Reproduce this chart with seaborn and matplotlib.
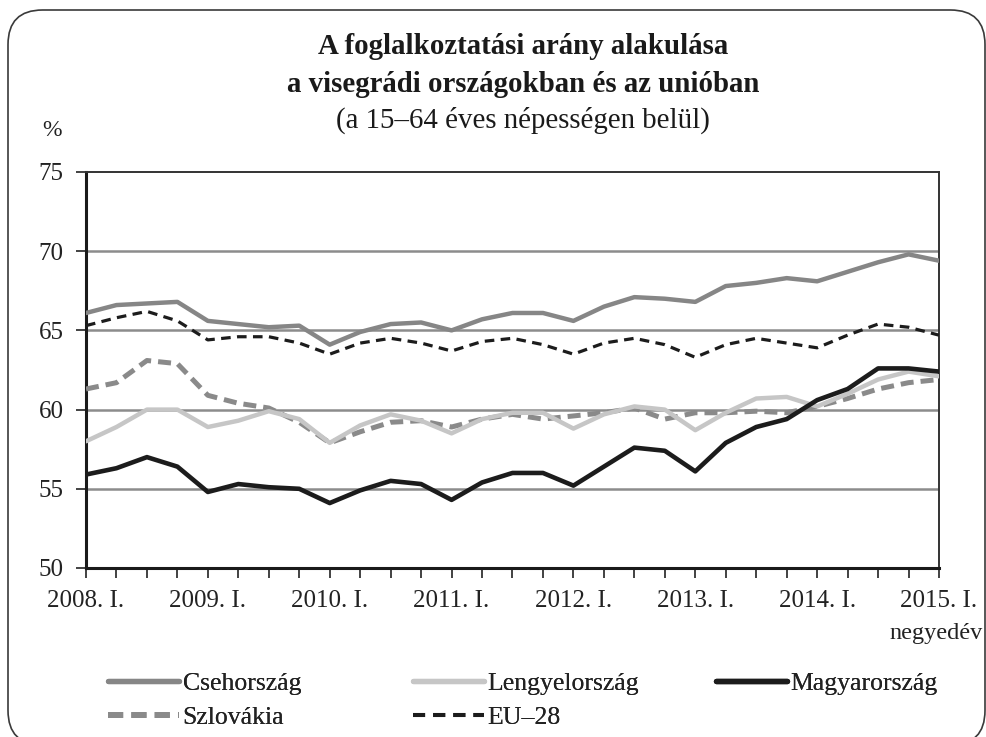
import matplotlib
matplotlib.use("Agg")
import matplotlib.pyplot as plt
from matplotlib.patches import FancyBboxPatch
from matplotlib.lines import Line2D
import seaborn as sns
import pandas as pd
import numpy as np

# ---- data (quarterly, 2008 Q1 - 2015 Q1) ----
quarters = list(range(29))
tick_labels = ["2008. I.", "2009. I.", "2010. I.", "2011. I.", "2012. I.",
               "2013. I.", "2014. I.", "2015. I."]
cseh = [66.1, 66.6, 66.7, 66.8, 65.6, 65.4, 65.2, 65.3, 64.1, 64.9, 65.4, 65.5,
        65.0, 65.7, 66.1, 66.1, 65.6, 66.5, 67.1, 67.0, 66.8, 67.8, 68.0, 68.3,
        68.1, 68.7, 69.3, 69.8, 69.4]
lengyel = [58.0, 58.9, 60.0, 60.0, 58.9, 59.3, 59.9, 59.4, 57.9, 59.0, 59.7, 59.3,
           58.5, 59.4, 59.8, 59.8, 58.8, 59.7, 60.2, 60.0, 58.7, 59.8, 60.7, 60.8,
           60.2, 61.0, 61.9, 62.4, 62.1]
magyar = [55.9, 56.3, 57.0, 56.4, 54.8, 55.3, 55.1, 55.0, 54.1, 54.9, 55.5, 55.3,
          54.3, 55.4, 56.0, 56.0, 55.2, 56.4, 57.6, 57.4, 56.1, 57.9, 58.9, 59.4,
          60.6, 61.3, 62.6, 62.6, 62.4]
szlovak = [61.3, 61.7, 63.1, 62.9, 60.9, 60.4, 60.1, 59.2, 57.9, 58.6, 59.2, 59.3,
           58.9, 59.4, 59.7, 59.4, 59.6, 59.8, 60.1, 59.4, 59.8, 59.8, 59.9, 59.8,
           60.2, 60.7, 61.3, 61.7, 61.9]
eu28 = [65.3, 65.8, 66.2, 65.6, 64.4, 64.6, 64.6, 64.2, 63.5, 64.2, 64.5, 64.2,
        63.7, 64.3, 64.5, 64.1, 63.5, 64.2, 64.5, 64.1, 63.3, 64.1, 64.5, 64.2,
        63.9, 64.7, 65.4, 65.2, 64.7]
series_names = ["Csehország", "Lengyelország", "Magyarország", "Szlovákia", "EU–28"]
series_values = [cseh, lengyel, magyar, szlovak, eu28]

# ---- styles ----
styles = {
    "Csehország":   dict(color="#868686", lw=3.2, ls="-"),
    "Lengyelország": dict(color="#c6c6c6", lw=3.2, ls="-"),
    "Magyarország": dict(color="#1c1c1c", lw=3.3, ls="-"),
    "Szlovákia":    dict(color="#8a8a8a", lw=3.6, ls=(0, (2.6, 1.4))),
    "EU–28":        dict(color="#1c1c1c", lw=2.3, ls=(0, (3.0, 2.0))),
}
draw_order = ["Csehország", "EU–28", "Szlovákia", "Lengyelország", "Magyarország"]

df = pd.DataFrame({"q": quarters * len(series_names),
                   "value": sum(series_values, []),
                   "series": np.repeat(series_names, len(quarters))})

sns.set_theme(style="white")
serif = ["Liberation Serif", "DejaVu Serif"]
plt.rcParams["font.family"] = serif

W, H = 987, 737
fig = plt.figure(figsize=(W / 100, H / 100), dpi=100)
ax = fig.add_axes([86 / W, (H - 568) / H, 853 / W, 396 / H])

# grid lines
for gy in [55, 60, 65, 70]:
    ax.axhline(gy, color="#8c8c8c", lw=1.8, zorder=1)

for name in draw_order:
    st = styles[name]
    sub = df[df["series"] == name]
    sns.lineplot(data=sub, x="q", y="value", ax=ax, color=st["color"],
                 linewidth=st["lw"], linestyle=st["ls"], legend=False, zorder=3)

ax.set_xlim(0, 28)
ax.set_ylim(50, 75)
ax.set_xlabel("")
ax.set_ylabel("")
ax.set_yticks([50, 55, 60, 65, 70, 75])
ax.set_xticks(range(0, 29, 4))
ax.set_xticklabels(tick_labels)
ax.set_xticks(range(29), minor=True)
ax.tick_params(axis="both", which="both", direction="out", color="#222222",
               width=1.2, labelsize=18, labelcolor="#222222")
ax.tick_params(axis="x", which="both", length=7, pad=9, bottom=True)
ax.tick_params(axis="y", length=7, pad=9, left=True)
for lab in ax.get_xticklabels() + ax.get_yticklabels():
    lab.set_family(serif)

for side in ["left", "bottom"]:
    ax.spines[side].set_color("#1a1a1a")
    ax.spines[side].set_linewidth(2.2)
for side in ["top", "right"]:
    ax.spines[side].set_color("#333333")
    ax.spines[side].set_linewidth(1.4)
    ax.spines[side].set_visible(True)

# titles
tx = 523 / W
fig.text(tx, 1 - 47 / H, "A foglalkoztatási arány alakulása", ha="center", va="center",
         fontsize=20.8, fontweight="bold", color="#1a1a1a", family=serif)
fig.text(tx, 1 - 84 / H, "a visegrádi országokban és az unióban", ha="center", va="center",
         fontsize=20.8, fontweight="bold", color="#1a1a1a", family=serif)
fig.text(tx, 1 - 120 / H, "(a 15–64 éves népességen belül)", ha="center", va="center",
         fontsize=20.8, color="#1a1a1a", family=serif)
fig.text(52 / W, 1 - 130 / H, "%", ha="center", va="center", fontsize=17,
         color="#222222", family=serif)
fig.text(983 / W, 1 - 634 / H, "negyedév", ha="right", va="center", fontsize=17.5,
         color="#222222", family=serif)

# legends (three columns)
def handle(name):
    st = styles[name]
    return Line2D([], [], color=st["color"], lw=st["lw"] + 0.6, ls=st["ls"])

cols = [(108, ["Csehország", "Szlovákia"]),
        (413, ["Lengyelország", "EU–28"]),
        (716, ["Magyarország"])]
for x0, names in cols:
    leg = fig.legend([handle(n) for n in names], names, loc="upper left",
                     bbox_to_anchor=(x0 / W, 1 - 672 / H), frameon=False,
                     handlelength=2.75, handletextpad=0.15,
                     labelspacing=0.42, borderaxespad=0, borderpad=0,
                     prop={"family": serif, "size": 18.5})
    for t in leg.get_texts():
        t.set_color("#222222")
    fig.add_artist(leg)

# rounded outer frame
frame = FancyBboxPatch((8 / W, -8 / H), (W - 10) / W, (H + 8 - 10) / H,
                       boxstyle="round,pad=0,rounding_size=0.035",
                       transform=fig.transFigure, fill=False,
                       edgecolor="#3a3a3a", lw=1.2, mutation_aspect=W / H)
fig.add_artist(frame)

fig.savefig("out.png", dpi=100, facecolor="white")
